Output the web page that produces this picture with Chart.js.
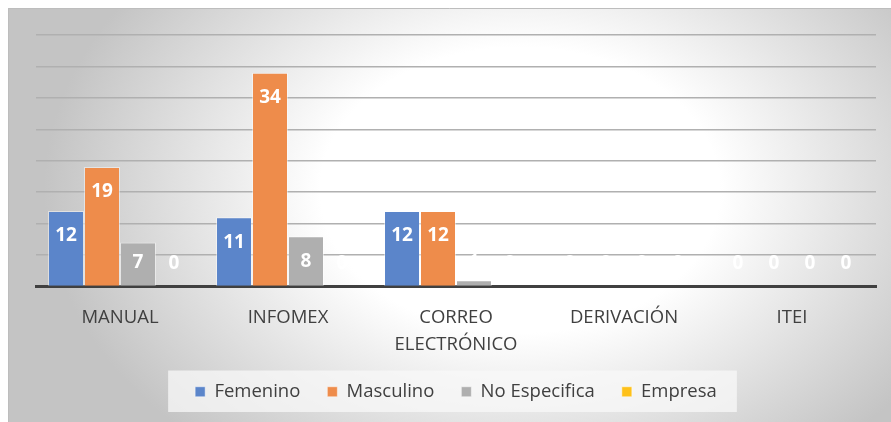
<!DOCTYPE html>
<html>
<head>
<meta charset="utf-8">
<script src="https://cdn.jsdelivr.net/npm/chart.js@4"></script>
<style>
  html, body { margin: 0; padding: 0; background: #fff; }
  #wrap { width: 891px; height: 422px; }
</style>
</head>
<body>
<div id="wrap"><canvas id="chart" width="891" height="422"></canvas></div>
<script>
// Data
const categories = ['MANUAL', 'INFOMEX', ['CORREO', 'ELECTRÓNICO'], 'DERIVACIÓN', 'ITEI'];
const femenino = [12, 11, 12, 0, 0];
const masculino = [19, 34, 12, 0, 0];
const noEspecifica = [7, 8, 1, 0, 0];
const empresa = [0, 0, 0, 0, 0];

const FONT = 'Open Sans';

// Background with soft radial gradient and legend panel
const backdrop = {
    id: 'backdrop',
    beforeDraw(chart) {
        const c = chart.ctx;
        const w = chart.width, h = chart.height;
        c.save();
        c.fillStyle = '#ffffff';
        c.fillRect(0, 0, w, h);
        c.translate(520, 190);
        c.scale(1.4, 1);
        const g = c.createRadialGradient(0, 0, 0, 0, 0, 340);
        g.addColorStop(0, '#ffffff');
        g.addColorStop(0.42, '#ffffff');
        g.addColorStop(1, '#c4c4c4');
        c.fillStyle = g;
        c.fillRect((8 - 520) / 1.4, 8 - 190, w / 1.4 + 400, h);
        c.restore();

        c.save();
        c.strokeStyle = '#bdbdbd';
        c.lineWidth = 1;
        c.beginPath();
        c.moveTo(8.5, h);
        c.lineTo(8.5, 8.5);
        c.lineTo(w, 8.5);
        c.stroke();

        // legend panel
        const lg = chart.legend;
        if (lg && lg.legendHitBoxes && lg.legendHitBoxes.length) {
            const hb = lg.legendHitBoxes;
            const first = hb[0], last = hb[hb.length - 1];
            const left = first.left - 27;
            const right = last.left + last.width + 20;
            const top = first.top - 12;
            const bottom = first.top + first.height + 11;
            c.fillStyle = 'rgba(248,248,248,0.75)';
            c.fillRect(left, top, right - left, bottom - top);
        }
        c.restore();
    }
};

// Value labels inside bar ends
const valueLabels = {
    id: 'valueLabels',
    afterDatasetsDraw(chart) {
        const c = chart.ctx;
        c.save();
        c.font = 'bold 19px "' + FONT + '"';
        c.fillStyle = '#ffffff';
        c.textAlign = 'center';
        c.textBaseline = 'middle';
        chart.data.datasets.forEach((ds, i) => {
            const meta = chart.getDatasetMeta(i);
            meta.data.forEach((bar, j) => {
                const y = Math.min(bar.y + 25, bar.base - 23);
                c.fillText(String(ds.data[j]), bar.x, y);
            });
        });
        c.restore();
    }
};

new Chart(document.getElementById('chart'), {
    type: 'bar',
    data: {
        labels: categories,
        datasets: [
            { label: 'Femenino', data: femenino, backgroundColor: '#5b85ca' },
            { label: 'Masculino', data: masculino, backgroundColor: '#ee8c4b' },
            { label: 'No Especifica', data: noEspecifica, backgroundColor: '#afafaf' },
            { label: 'Empresa', data: empresa, backgroundColor: '#fec11a' }
        ]
    },
    options: {
        responsive: false,
        animation: false,
        layout: { padding: { left: 36, right: 15, top: 35, bottom: 11 } },
        datasets: {
            bar: {
                categoryPercentage: 0.857,
                barPercentage: 1,
                borderColor: 'rgba(255,255,255,0.45)',
                borderWidth: 1
            }
        },
        scales: {
            x: {
                grid: { display: false, drawTicks: false },
                border: { display: true, color: '#404040', width: 3 },
                afterFit(scale) { scale.height = 69; },
                ticks: {
                    color: '#404040',
                    padding: 18,
                    maxRotation: 0,
                    autoSkip: false,
                    font: { family: FONT, size: 18.5, lineHeight: 27 / 18.5 }
                }
            },
            y: {
                min: 0,
                max: 40,
                ticks: { display: false, stepSize: 5 },
                border: { display: false },
                grid: {
                    drawTicks: false,
                    lineWidth: 1.5,
                    color: ctx => ctx.tick.value === 0 ? 'rgba(0,0,0,0)' : '#b0b0b0'
                }
            }
        },
        plugins: {
            legend: {
                position: 'bottom',
                labels: {
                    boxWidth: 10,
                    boxHeight: 10,
                    padding: 27,
                    color: '#404040',
                    font: { family: FONT, size: 18.5 }
                }
            },
            tooltip: { enabled: false }
        }
    },
    plugins: [backdrop, valueLabels]
});
</script>
</body>
</html>
